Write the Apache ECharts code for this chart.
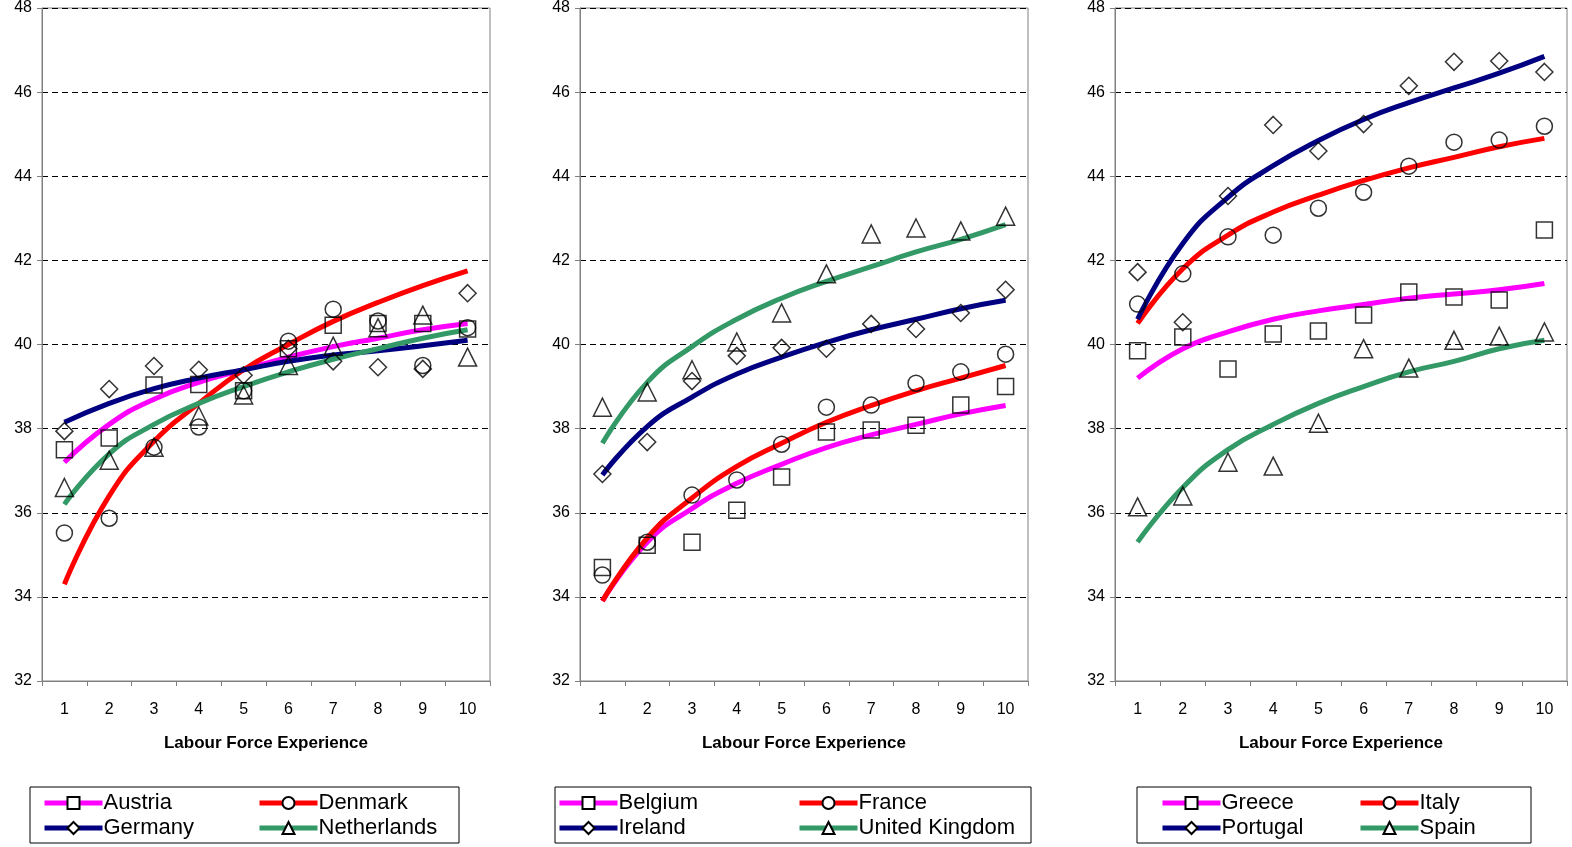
<!DOCTYPE html>
<html><head><meta charset="utf-8">
<script src="https://cdn.jsdelivr.net/npm/echarts@6/dist/echarts.min.js"></script>
<style>html,body{margin:0;padding:0;background:#fff}#c{width:1572px;height:847px}</style>
</head><body><div id="c"></div>
<script>
var years = ['1','2','3','4','5','6','7','8','9','10'];

// panel 1
var austriaObs  = [37.5,37.78,39.04,39.05,38.9,39.9,40.46,40.5,40.5,40.37];
var denmarkObs  = [35.52,35.87,37.56,38.04,38.9,40.08,40.84,40.56,39.5,40.4];
var germanyObs  = [37.94,38.94,39.49,39.4,39.27,39.9,39.6,39.46,39.42,41.22];
var nethObs     = [36.6,37.25,37.56,38.3,38.8,39.5,39.96,40.4,40.7,39.7];
var austriaFit  = [37.2,38.1,38.7,39.1,39.4,39.7,39.95,40.15,40.35,40.5];
var denmarkFit  = [34.3,36.4,37.7,38.6,39.4,40.0,40.55,41.0,41.4,41.75];
var germanyFit  = [38.15,38.6,38.95,39.2,39.4,39.6,39.75,39.85,39.97,40.1];
var nethFit     = [36.2,37.4,38.1,38.6,39.0,39.35,39.65,39.9,40.15,40.35];
// panel 2
var belgiumObs  = [34.7,35.23,35.3,36.06,36.85,37.92,37.97,38.08,38.56,39.0];
var franceObs   = [34.52,35.3,36.42,36.78,37.63,38.51,38.56,39.08,39.35,39.77];
var irelandObs  = [36.92,37.68,39.13,39.73,39.92,39.9,40.49,40.37,40.75,41.3];
var ukObs       = [38.51,38.87,39.4,40.06,40.75,41.68,42.63,42.77,42.7,43.05];
var belgiumFit  = [33.9,35.3,36.1,36.7,37.15,37.55,37.85,38.1,38.35,38.55];
var franceFit   = [33.9,35.4,36.35,37.1,37.65,38.15,38.55,38.9,39.2,39.5];
var irelandFit  = [36.9,38.05,38.75,39.3,39.7,40.05,40.35,40.6,40.85,41.05];
var ukFit       = [37.65,39.1,39.95,40.6,41.1,41.5,41.85,42.2,42.5,42.85];
// panel 3
var greeceObs   = [39.85,40.18,39.42,40.25,40.32,40.7,41.25,41.13,41.06,42.72];
var italyObs    = [40.96,41.68,42.56,42.6,43.24,43.62,44.24,44.81,44.86,45.19];
var portugalObs = [41.72,40.53,43.53,45.22,44.6,45.24,46.15,46.72,46.74,46.48];
var spainObs    = [36.14,36.4,37.2,37.11,38.13,39.9,39.44,40.1,40.2,40.3];
var greeceFit   = [39.2,39.9,40.3,40.6,40.8,40.95,41.1,41.2,41.3,41.45];
var italyFit    = [40.5,41.8,42.6,43.15,43.55,43.9,44.2,44.45,44.7,44.9];
var portugalFit = [40.6,42.4,43.5,44.25,44.85,45.35,45.75,46.1,46.45,46.85];
var spainFit    = [35.3,36.6,37.5,38.1,38.6,39.0,39.35,39.6,39.9,40.1];

var MAG='#ff00ff', RED='#ff0000', NAVY='#000080', GRN='#339966';
var font='Liberation Sans, Arial, sans-serif';

var panels = [
	{left:42,width:448,items:[['Austria',austriaObs,austriaFit,MAG,'rect'],['Denmark',denmarkObs,denmarkFit,RED,'circle'],['Germany',germanyObs,germanyFit,NAVY,'diamond'],['Netherlands',nethObs,nethFit,GRN,'triangle']],box:[30,787,429,56],cols:[42,257]},
	{left:580,width:448,items:[['Belgium',belgiumObs,belgiumFit,MAG,'rect'],['France',franceObs,franceFit,RED,'circle'],['Ireland',irelandObs,irelandFit,NAVY,'diamond'],['United Kingdom',ukObs,ukFit,GRN,'triangle']],box:[555,787,476,56],cols:[557,797]},
	{left:1115,width:452,items:[['Greece',greeceObs,greeceFit,MAG,'rect'],['Italy',italyObs,italyFit,RED,'circle'],['Portugal',portugalObs,portugalFit,NAVY,'diamond'],['Spain',spainObs,spainFit,GRN,'triangle']],box:[1137,787,394,56],cols:[1160,1358]}
];

var grid=[],xAxis=[],yAxis=[],series=[],legend=[],graphic=[];
panels.forEach(function(p,i){
	grid.push({left:p.left,width:p.width,top:8,height:673,show:true,borderColor:'#808080',borderWidth:1});
	xAxis.push({type:'category',gridIndex:i,data:years,boundaryGap:true,
		name:'Labour Force Experience',nameLocation:'middle',nameGap:54,
		nameTextStyle:{fontFamily:font,fontSize:17,fontWeight:'bold',color:'#000'},
		axisLine:{lineStyle:{color:'#808080'}},axisTick:{show:true,inside:false,length:5,lineStyle:{color:'#808080'}},
		axisLabel:{fontFamily:font,fontSize:16,color:'#000',margin:21}});
	yAxis.push({type:'value',gridIndex:i,min:32,max:48,interval:2,
		axisLine:{show:true,lineStyle:{color:'#808080'}},axisTick:{show:true,length:5,lineStyle:{color:'#808080'}},
		axisLabel:{fontFamily:font,fontSize:16,color:'#000',margin:10},
		splitLine:{lineStyle:{color:'#000',type:[6,4],width:1}}});
	p.items.forEach(function(it){
		series.push({name:it[0],type:'line',xAxisIndex:i,yAxisIndex:i,data:it[2],smooth:true,
			symbol:it[4],showSymbol:false,symbolSize:14,
			itemStyle:{color:'#fff',borderColor:'#000',borderWidth:1.5},
			lineStyle:{color:it[3],width:5},z:2,silent:true});
		series.push({name:it[0],type:'scatter',xAxisIndex:i,yAxisIndex:i,data:it[1],
			symbol:it[4],symbolSize:it[4]==='diamond'?17:(it[4]==='triangle'?18:16),
			itemStyle:{color:'rgba(255,255,255,0)',borderColor:'#000',borderWidth:1.5},z:3});
	});
	graphic.push({type:'rect',shape:{x:p.box[0],y:p.box[1],width:p.box[2],height:p.box[3]},
		style:{fill:'none',stroke:'#000',lineWidth:1}});
	[[0,2],[1,3]].forEach(function(c,k){
		legend.push({orient:'vertical',left:p.cols[k],top:792,padding:0,itemGap:3,itemWidth:58,itemHeight:15,
			data:[c[0],c[1]].map(function(j){
				return {name:p.items[j][0],lineStyle:{width:5,color:p.items[j][3]}};
			}),selectedMode:false,
			textStyle:{fontFamily:font,fontSize:22,color:'#000',padding:[0,0,0,-4]}});
	});
});

var chart = echarts.init(document.getElementById('c'));
chart.setOption({backgroundColor:'#fff',animation:false,grid:grid,xAxis:xAxis,yAxis:yAxis,series:series,legend:legend,graphic:graphic});
</script></body></html>
